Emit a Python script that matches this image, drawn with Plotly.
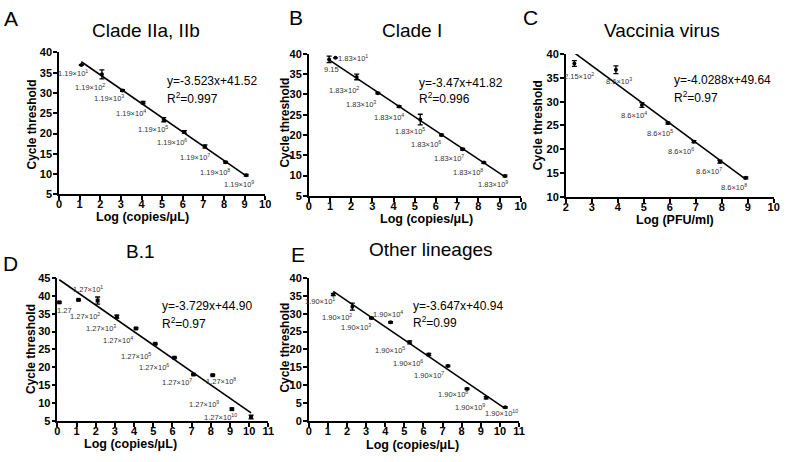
import plotly.graph_objects as go

W, H = 787, 462
FONT = "Arial, Liberation Sans, sans-serif"

# ---------------- data ----------------
# Panel A: Clade IIa, IIb
A_x = [1.08, 2.08, 3.08, 4.08, 5.08, 6.08, 7.08, 8.08, 9.08]
A_y = [36.9, 34.6, 30.6, 27.6, 23.4, 20.4, 16.8, 12.9, 9.7]
A_err = [0.1, 1.1, 0.2, 0.3, 0.5, 0.3, 0.4, 0.2, 0.2]
A_labels = ["1.19×10<sup>%d</sup>" % k for k in range(1, 10)]
A_fit = (-3.523, 41.52)
A_eq = ["y=-3.523x+41.52", "R<sup>2</sup>=0.997"]

# Panel B: Clade I
B_x = [0.96, 1.26, 2.26, 3.26, 4.26, 5.26, 6.26, 7.26, 8.26, 9.26]
B_y = [38.6, 39.0, 34.3, 30.3, 27.0, 23.8, 20.0, 16.5, 13.2, 9.9]
B_err = [0.8, 0.0, 0.7, 0.2, 0.2, 1.3, 0.2, 0.2, 0.2, 0.2]
B_labels = ["9.15"] + ["1.83×10<sup>%d</sup>" % k for k in range(1, 10)]
B_fit = (-3.47, 41.82)
B_eq = ["y=-3.47x+41.82", "R<sup>2</sup>=0.996"]

# Panel C: Vaccinia virus
C_x = [2.33, 3.93, 4.93, 5.93, 6.93, 7.93, 8.93]
C_y = [38.0, 36.7, 29.3, 25.5, 21.6, 17.4, 14.0]
C_err = [0.6, 0.8, 0.5, 0.2, 0.2, 0.3, 0.2]
C_labels = ["2.15×10<sup>2</sup>"] + ["8.6×10<sup>%d</sup>" % k for k in range(3, 9)]
C_fit = (-4.0288, 49.64)
C_eq = ["y=-4.0288x+49.64", "R<sup>2</sup>=0.97"]

# Panel D: B.1
D_x = [0.10, 1.10, 2.10, 3.10, 4.10, 5.10, 6.10, 7.10, 8.10, 9.10, 10.10]
D_y = [38.2, 38.9, 38.7, 34.2, 30.9, 26.6, 22.7, 18.0, 17.8, 8.3, 6.1]
D_err = [0.2, 0.2, 1.0, 0.4, 0.2, 0.2, 0.2, 0.2, 0.2, 0.3, 0.5]
D_labels = ["1.27"] + ["1.27×10<sup>%d</sup>" % k for k in range(1, 11)]
D_fit = (-3.729, 44.90)
D_eq = ["y=-3.729x+44.90", "R<sup>2</sup>=0.97"]

# Panel E: Other lineages
E_x = [1.28, 2.28, 3.28, 4.28, 5.28, 6.28, 7.28, 8.28, 9.28, 10.28]
E_y = [35.4, 32.0, 28.8, 27.6, 22.0, 18.6, 15.4, 9.0, 6.5, 3.8]
E_err = [0.3, 1.0, 0.2, 0.2, 0.4, 0.3, 0.2, 0.2, 0.3, 0.2]
E_labels = ["1.90×10<sup>%d</sup>" % k for k in range(1, 11)]
E_fit = (-3.647, 40.94)
E_eq = ["y=-3.647x+40.94", "R<sup>2</sup>=0.99"]

titles = ["Clade IIa, IIb", "Clade I", "Vaccinia virus", "B.1", "Other lineages"]
letters = ["A", "B", "C", "D", "E"]
xtitles = ["Log (copies/μL)", "Log (copies/μL)", "Log (PFU/ml)", "Log (copies/μL)", "Log (copies/μL)"]
ytitle = "Cycle threshold"

# ---------------- layout / style ----------------
def px(x):
    return x / W

def py(y):
    return 1 - y / H

panels = [
    dict(x=A_x, y=A_y, err=A_err, labels=A_labels, fit=A_fit, eq=A_eq,
         xd=(56.7, 265.2), yd=(47.7, 193.3), xr=(0, 10), yr=(5, 40),
         eqpos=(5.3, 32.9, 28.8), sym="circle",
         off=[(-8, 8), (-12, 13), (-14, 7), (-12, 10), (-11, 9), (-12, 10), (-10, 11), (-11, 10), (-7, 9)],
         title=(144.7, 25), letter=(8, 13), xt=(141, 217), yt=(29, 122)),
    dict(x=B_x, y=B_y, err=B_err, labels=B_labels, fit=B_fit, eq=B_eq,
         xd=(309.3, 523.7), yd=(49, 195), xr=(0, 10), yr=(5, 40),
         eqpos=(5.25, 32.8, 29.1), sym="circle",
         off=[(2, 10), (18, 0), (-13, 13), (-17, 11), (-10, 10), (-10, 11), (-15, 9), (-14, 9), (-16, 9), (-12, 8)],
         title=(414, 25), letter=(296, 12), xt=(428, 219), yt=(285, 120)),
    dict(x=C_x, y=C_y, err=C_err, labels=C_labels, fit=C_fit, eq=C_eq,
         xd=(569.3, 779.6), yd=(49.3, 196), xr=(2, 10), yr=(10, 40),
         eqpos=(6.2, 34.5, 31.0), sym="circle",
         off=[(5, 12), (3, 11), (-8, 10), (-8, 10), (-13, 9), (-11, 9), (-12, 9)],
         title=(666.7, 25), letter=(534, 12), xt=(680, 220), yt=(541.5, 122)),
    dict(x=D_x, y=D_y, err=D_err, labels=D_labels, fit=D_fit, eq=D_eq,
         xd=(55, 268.4), yd=(279.3, 426), xr=(0, 11), yr=(5, 45),
         eqpos=(5.5, 37.1, 32.3), sym="square",
         off=[(5, 8), (10, -11), (-13, 15), (-16, 11), (-18, 12), (-19, 12), (-20, 9), (-17, 8), (8, 6), (-28, -5), (-31, 0)],
         title=(139, 252), letter=(8, 264), xt=(129, 450), yt=(29, 352.5)),
    dict(x=E_x, y=E_y, err=E_err, labels=E_labels, fit=E_fit, eq=E_eq,
         xd=(309.3, 522), yd=(279.3, 426), xr=(0, 11), yr=(0, 40),
         eqpos=(5.5, 32.1, 27.8), sym="circle",
         off=[(-13, 7), (-15, 10), (-15, 9), (-3, -8), (-20, 8), (-21, 9), (-19, 9), (-14, 5), (-16, 9), (-4, 6)],
         title=(433, 250), letter=(298, 255), xt=(414, 451), yt=(285, 351)),
]

fig = go.Figure()
annotations = []
layout_axes = {}

for i, p in enumerate(panels):
    n = "" if i == 0 else str(i + 1)
    xa, ya = "x" + n, "y" + n
    fig.add_trace(go.Scatter(
        x=p["x"], y=p["y"], mode="markers", xaxis=xa, yaxis=ya, showlegend=False,
        marker=dict(color="black", size=4, symbol=p["sym"]),
        error_y=dict(type="data", array=p["err"], visible=True, color="black",
                     thickness=1.3, width=2.5),
        cliponaxis=False, hoverinfo="skip"))
    m, b = p["fit"]
    x0, x1 = p["x"][0], p["x"][-1]
    fig.add_trace(go.Scatter(
        x=[x0, x1], y=[m * x0 + b, m * x1 + b], mode="lines", xaxis=xa, yaxis=ya,
        showlegend=False, line=dict(color="black", width=1.6), cliponaxis=False,
        hoverinfo="skip"))

    axcommon = dict(showline=True, linecolor="black", linewidth=1.5, ticks="outside",
                    ticklen=4, tickwidth=1.5, tickcolor="black", showgrid=False,
                    zeroline=False, tickfont=dict(family=FONT, size=11, color="black", weight="bold"))
    layout_axes["xaxis" + n] = dict(axcommon, domain=[px(p["xd"][0]), px(p["xd"][1])],
                                    range=list(p["xr"]), dtick=1, anchor=ya,
                                    ticklabelstandoff=-5)
    layout_axes["yaxis" + n] = dict(axcommon, domain=[py(p["yd"][1]), py(p["yd"][0])],
                                    range=list(p["yr"]), dtick=5, anchor=xa,
                                    ticklabelstandoff=-1)

    # point labels
    for xv, yv, lab, (dx, dy) in zip(p["x"], p["y"], p["labels"], p["off"]):
        annotations.append(dict(x=xv, y=yv, xref=xa, yref=ya, text=lab, showarrow=False,
                                xshift=dx, yshift=-dy, xanchor="center", yanchor="middle",
                                font=dict(family=FONT, size=7.5, color="#333333")))
    # equation
    ex, ey1, ey2 = p["eqpos"]
    annotations.append(dict(x=ex, y=ey1, xref=xa, yref=ya, text=p["eq"][0], showarrow=False,
                            xanchor="left", yanchor="middle", xshift=-3,
                            font=dict(family=FONT, size=12, color="black")))
    annotations.append(dict(x=ex, y=ey2, xref=xa, yref=ya, text=p["eq"][1], showarrow=False,
                            xanchor="left", yanchor="middle", xshift=-3,
                            font=dict(family=FONT, size=12, color="black")))
    # title, letter, axis titles
    tx, ty = p["title"]
    annotations.append(dict(x=px(tx), y=py(ty), xref="paper", yref="paper", text=titles[i],
                            showarrow=False, xanchor="center", yanchor="middle",
                            font=dict(family=FONT, size=19, color="black")))
    lx, ly = p["letter"]
    annotations.append(dict(x=px(lx), y=py(ly), xref="paper", yref="paper", text=letters[i],
                            showarrow=False, xanchor="center", yanchor="middle",
                            font=dict(family=FONT, size=21, color="black")))
    xx, xy = p["xt"]
    annotations.append(dict(x=px(xx), y=py(xy), xref="paper", yref="paper", text=xtitles[i],
                            showarrow=False, xanchor="center", yanchor="middle",
                            font=dict(family=FONT, size=12.5, color="black", weight="bold")))
    yx, yy = p["yt"]
    annotations.append(dict(x=px(yx), y=py(yy), xref="paper", yref="paper", text=ytitle,
                            showarrow=False, xanchor="center", yanchor="middle", textangle=-90,
                            font=dict(family=FONT, size=12, color="black", weight="bold")))

fig.update_layout(
    width=W, height=H, margin=dict(l=0, r=0, t=0, b=0),
    paper_bgcolor="white", plot_bgcolor="white", hovermode=False,
    annotations=annotations, **layout_axes)

fig.write_html("out.html", config={"displayModeBar": False},
               post_script="document.body.style.margin='0';document.body.style.overflow='hidden';")
